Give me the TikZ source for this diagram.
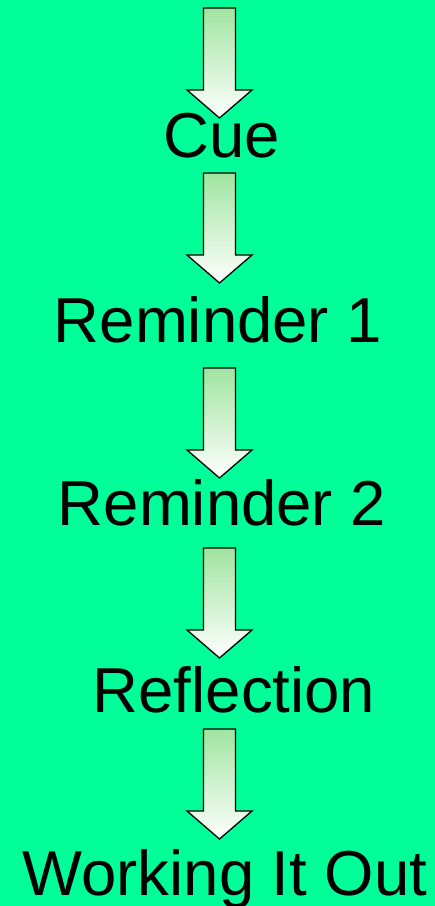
\documentclass[tikz,border=0pt]{standalone}
\usepackage{fontspec}
\setmainfont{Liberation Sans}
\definecolor{bg}{RGB}{0,255,153}
\definecolor{arrtop}{RGB}{160,228,160}
\tikzset{
  lbl/.style={anchor=base, inner sep=0pt, font=\fontsize{63.5}{70}\selectfont, text=black},
  blockarrow/.pic={
    \draw[line width=1.3pt, line join=miter, top color=arrtop, bottom color=white]
      (-16,0) -- (16,0) -- (16,-82) -- (32.5,-82) -- (0,-110) -- (-32.5,-82) -- (-16,-82) -- cycle;
  }
}
\begin{document}
\begin{tikzpicture}[x=1pt,y=-1pt]
\fill[bg] (0,0) rectangle (435,906);
\useasboundingbox (0,0) rectangle (435,906);
\pic[yscale=-1] (a1) at (219.5,8) {blockarrow};
\pic[yscale=-1] (a2) at (219.5,173) {blockarrow};
\pic[yscale=-1] (a3) at (219.5,368) {blockarrow};
\pic[yscale=-1] (a4) at (219.5,548) {blockarrow};
\pic[yscale=-1] (a5) at (219.5,729) {blockarrow};
\node[lbl] (cue) at (222,157) {Cue};
\node[lbl] (rem1) at (218,342) {Reminder 1};
\node[lbl] (rem2) at (222,525) {Reminder 2};
\node[lbl] (refl) at (234,712) {Reflection};
\node[lbl] (work) at (225,895) {Working It Out};
\end{tikzpicture}
\end{document}
